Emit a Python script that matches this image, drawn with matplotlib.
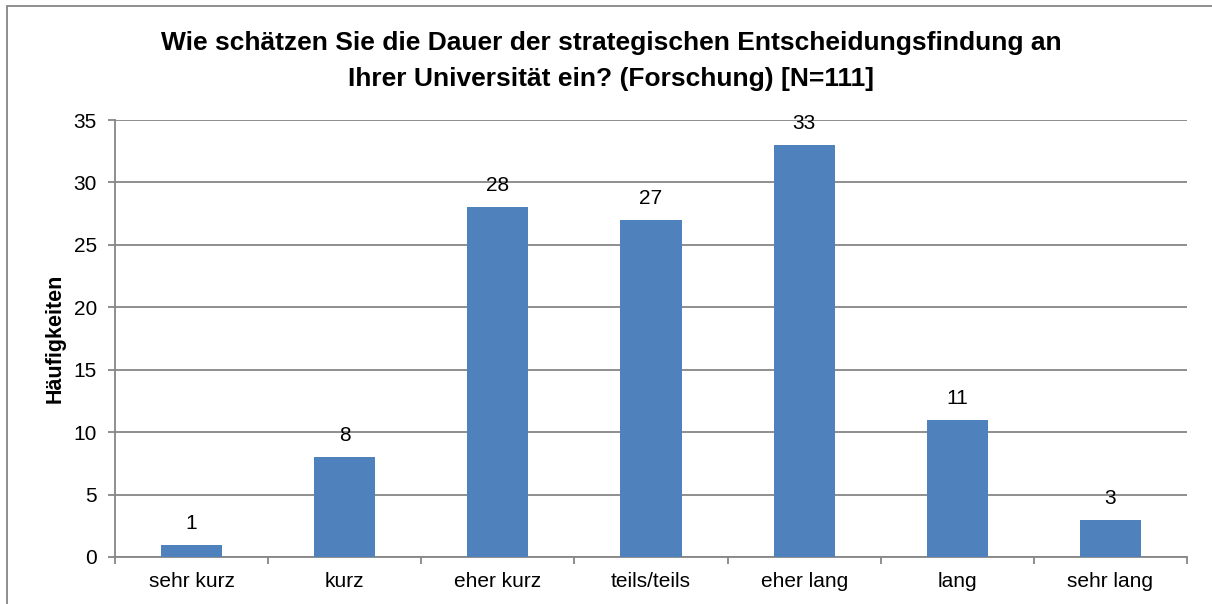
import matplotlib
matplotlib.use("Agg")
import matplotlib.pyplot as plt
from matplotlib.patches import Rectangle
import numpy as np

plt.rcParams['font.family'] = ['Liberation Sans', 'DejaVu Sans']

categories = ["sehr kurz", "kurz", "eher kurz", "teils/teils", "eher lang", "lang", "sehr lang"]
counts = [1, 8, 28, 27, 33, 11, 3]
yticks = [0, 5, 10, 15, 20, 25, 30, 35]

title = ("Wie schätzen Sie die Dauer der strategischen Entscheidungsfindung an\n"
         "Ihrer Universität ein? (Forschung) [N=111]")

W, H = 1212, 604
fig = plt.figure(figsize=(W / 100, H / 100), dpi=100)
ax = fig.add_axes([115 / W, (H - 557) / H, (1187 - 115) / W, (557 - 120) / H])

grey = "#868686"
fs = 15
x = np.arange(len(categories))
ax.bar(x, counts, width=0.4, color="#4F81BD", zorder=3)

for xi, v in zip(x, counts):
    ax.annotate(str(v), (xi, v), xytext=(0, 11.5), textcoords="offset points",
                ha="center", va="baseline", fontsize=fs, color="black", zorder=4)

ax.set_xlim(-0.5, len(categories) - 0.5)
ax.set_ylim(0, 35)
ax.set_yticks(yticks)
ax.set_yticklabels([str(t) for t in yticks], fontsize=fs)
ax.yaxis.grid(True, color=grey, linewidth=1.3)
ax.set_axisbelow(True)

# category labels centred, tick marks on the boundaries
ax.set_xticks(x)
ax.set_xticklabels(categories, fontsize=fs)
ax.tick_params(axis="x", length=0, pad=11)
ax.set_xticks(np.arange(-0.5, len(categories)), minor=True)
ax.tick_params(axis="x", which="minor", length=5, color=grey, width=1.3)
ax.tick_params(axis="y", length=5, color=grey, width=1.3, pad=8)

for side in ["top", "right"]:
    ax.spines[side].set_visible(False)
for side in ["left", "bottom"]:
    ax.spines[side].set_color(grey)
    ax.spines[side].set_linewidth(1.3)

ax.set_ylabel("Häufigkeiten", fontsize=15.5, fontweight="bold", labelpad=6)
fig.text(611 / W, 1 - 61 / H, title, ha="center", va="center", fontsize=19,
         fontweight="bold", linespacing=1.6)

# chart frame
fig.patches.append(Rectangle((7 / W, -0.1), 1.2, 1 - 6 / H + 0.1, transform=fig.transFigure,
                             fill=False, edgecolor=grey, linewidth=1.3))

fig.savefig("out.png", dpi=100)
